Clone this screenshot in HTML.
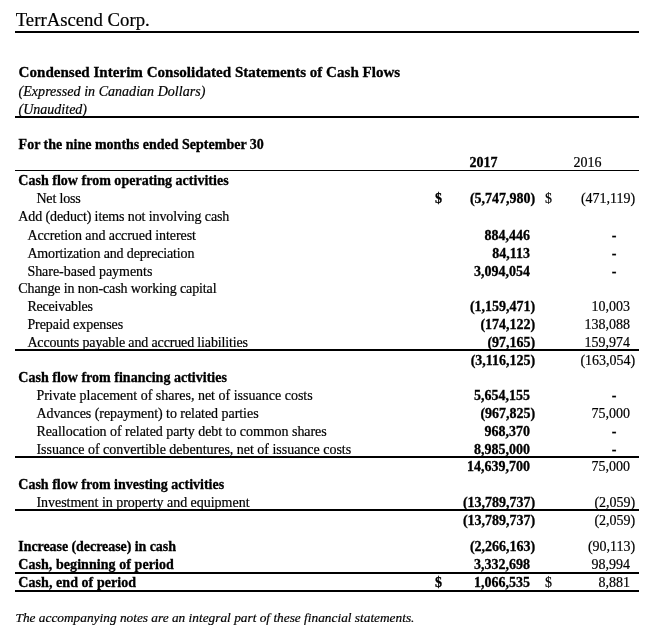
<!DOCTYPE html>
<html><head><meta charset="utf-8"><title>TerrAscend Corp. - Condensed Interim Consolidated Statements of Cash Flows</title>
<style>
html,body{margin:0;padding:0;background:#fff;}
body{width:667px;height:628px;position:relative;overflow:hidden;font-family:"Liberation Serif","Times New Roman",serif;color:#000;}
.t{position:absolute;white-space:nowrap;line-height:normal;-webkit-text-stroke:0.2px #000;}
.b{font-weight:bold;-webkit-text-stroke:0.3px #000;}
.i{font-style:italic;}
.r{text-align:right;}
.c{text-align:center;}
.h{position:absolute;background:#000;}
</style></head><body>

<div class="h" style="left:14.6px;top:30.8px;width:624.9px;height:1.9px"></div>
<div class="h" style="left:14.6px;top:116.0px;width:624.7px;height:1.6px"></div>
<div class="h" style="left:14.6px;top:169.8px;width:624.7px;height:1.6px"></div>
<div class="h" style="left:14.6px;top:349.4px;width:624.7px;height:1.6px"></div>
<div class="h" style="left:14.6px;top:456.4px;width:624.7px;height:1.6px"></div>
<div class="h" style="left:14.6px;top:509.4px;width:624.7px;height:1.6px"></div>
<div class="h" style="left:14.6px;top:571.5px;width:624.7px;height:2.0px"></div>
<div class="h" style="left:14.6px;top:589.8px;width:624.7px;height:2.2px"></div>
<div class="t" style="top:9.19px;font-size:18.75px;left:15.70px;">TerrAscend Corp.</div>
<div class="t b" style="top:64.07px;font-size:15.07px;left:18.60px;">Condensed Interim Consolidated Statements of Cash Flows</div>
<div class="t i" style="top:83.73px;font-size:14.0px;letter-spacing:0.033px;left:18.60px;">(Expressed in Canadian Dollars)</div>
<div class="t i" style="top:101.53px;font-size:14.0px;left:18.60px;">(Unaudited)</div>
<div class="t b" style="top:137.43px;font-size:14.0px;left:18.60px;">For the nine months ended September 30</div>
<div class="t b" style="top:155.03px;font-size:14.0px;left:469.50px;">2017</div>
<div class="t" style="top:155.03px;font-size:14.0px;left:573.50px;">2016</div>
<div class="t b" style="top:173.43px;font-size:14.0px;letter-spacing:0.018px;left:18.30px;">Cash flow from operating activities</div>
<div class="t" style="top:191.33px;font-size:14.0px;letter-spacing:-0.157px;left:36.40px;">Net loss</div>
<div class="t b" style="top:191.33px;font-size:14.0px;left:435.00px;">$</div>
<div class="t b r" style="top:191.33px;font-size:14.0px;right:131.80px;">(5,747,980)</div>
<div class="t" style="top:191.33px;font-size:14.0px;left:545.00px;">$</div>
<div class="t r" style="top:191.33px;font-size:14.0px;right:31.80px;">(471,119)</div>
<div class="t" style="top:209.33px;font-size:14.0px;letter-spacing:-0.111px;left:18.30px;">Add (deduct) items not involving cash</div>
<div class="t" style="top:228.03px;font-size:14.0px;letter-spacing:-0.072px;left:27.40px;">Accretion and accrued interest</div>
<div class="t b r" style="top:228.03px;font-size:14.0px;right:137.00px;">884,446</div>
<div class="t b c" style="top:228.03px;font-size:14.0px;left:594.00px;width:40px;">-</div>
<div class="t" style="top:246.03px;font-size:14.0px;letter-spacing:-0.143px;left:27.40px;">Amortization and depreciation</div>
<div class="t b r" style="top:246.03px;font-size:14.0px;right:137.00px;">84,113</div>
<div class="t b c" style="top:246.03px;font-size:14.0px;left:594.00px;width:40px;">-</div>
<div class="t" style="top:263.73px;font-size:14.0px;letter-spacing:-0.032px;left:27.40px;">Share-based payments</div>
<div class="t b r" style="top:263.73px;font-size:14.0px;right:137.00px;">3,094,054</div>
<div class="t b c" style="top:263.73px;font-size:14.0px;left:594.00px;width:40px;">-</div>
<div class="t" style="top:281.03px;font-size:14.0px;letter-spacing:-0.118px;left:18.30px;">Change in non-cash working capital</div>
<div class="t" style="top:298.93px;font-size:14.0px;letter-spacing:-0.200px;left:27.40px;">Receivables</div>
<div class="t b r" style="top:298.93px;font-size:14.0px;right:131.80px;">(1,159,471)</div>
<div class="t r" style="top:298.93px;font-size:14.0px;right:37.00px;">10,003</div>
<div class="t" style="top:316.83px;font-size:14.0px;letter-spacing:-0.067px;left:27.40px;">Prepaid expenses</div>
<div class="t b r" style="top:316.83px;font-size:14.0px;right:131.80px;">(174,122)</div>
<div class="t r" style="top:316.83px;font-size:14.0px;right:37.00px;">138,088</div>
<div class="t" style="top:334.73px;font-size:14.0px;letter-spacing:-0.144px;left:27.40px;">Accounts payable and accrued liabilities</div>
<div class="t b r" style="top:334.73px;font-size:14.0px;right:131.80px;">(97,165)</div>
<div class="t r" style="top:334.73px;font-size:14.0px;right:37.00px;">159,974</div>
<div class="t b r" style="top:352.83px;font-size:14.0px;right:131.80px;">(3,116,125)</div>
<div class="t r" style="top:352.83px;font-size:14.0px;right:31.80px;">(163,054)</div>
<div class="t b" style="top:369.93px;font-size:14.0px;letter-spacing:0.012px;left:18.30px;">Cash flow from financing activities</div>
<div class="t" style="top:388.23px;font-size:14.0px;letter-spacing:0.006px;left:36.40px;">Private placement of shares, net of issuance costs</div>
<div class="t b r" style="top:388.23px;font-size:14.0px;right:137.00px;">5,654,155</div>
<div class="t b c" style="top:388.23px;font-size:14.0px;left:594.00px;width:40px;">-</div>
<div class="t" style="top:406.03px;font-size:14.0px;letter-spacing:-0.045px;left:36.40px;">Advances (repayment) to related parties</div>
<div class="t b r" style="top:406.03px;font-size:14.0px;right:131.80px;">(967,825)</div>
<div class="t r" style="top:406.03px;font-size:14.0px;right:37.00px;">75,000</div>
<div class="t" style="top:424.03px;font-size:14.0px;letter-spacing:-0.048px;left:36.40px;">Reallocation of related party debt to common shares</div>
<div class="t b r" style="top:424.03px;font-size:14.0px;right:137.00px;">968,370</div>
<div class="t b c" style="top:424.03px;font-size:14.0px;left:594.00px;width:40px;">-</div>
<div class="t" style="top:441.93px;font-size:14.0px;letter-spacing:-0.016px;left:36.40px;">Issuance of convertible debentures, net of issuance costs</div>
<div class="t b r" style="top:441.93px;font-size:14.0px;right:137.00px;">8,985,000</div>
<div class="t b c" style="top:441.93px;font-size:14.0px;left:594.00px;width:40px;">-</div>
<div class="t b r" style="top:459.33px;font-size:14.0px;right:137.00px;">14,639,700</div>
<div class="t r" style="top:459.33px;font-size:14.0px;right:37.00px;">75,000</div>
<div class="t b" style="top:477.03px;font-size:14.0px;left:18.30px;">Cash flow from investing activities</div>
<div class="t" style="top:495.03px;font-size:14.0px;letter-spacing:-0.020px;left:36.40px;">Investment in property and equipment</div>
<div class="t b r" style="top:495.03px;font-size:14.0px;right:131.80px;">(13,789,737)</div>
<div class="t r" style="top:495.03px;font-size:14.0px;right:31.80px;">(2,059)</div>
<div class="t b r" style="top:513.03px;font-size:14.0px;right:131.80px;">(13,789,737)</div>
<div class="t r" style="top:513.03px;font-size:14.0px;right:31.80px;">(2,059)</div>
<div class="t b" style="top:539.33px;font-size:14.0px;letter-spacing:-0.062px;left:18.30px;">Increase (decrease) in cash</div>
<div class="t b r" style="top:539.33px;font-size:14.0px;right:131.80px;">(2,266,163)</div>
<div class="t r" style="top:539.33px;font-size:14.0px;right:31.80px;">(90,113)</div>
<div class="t b" style="top:557.13px;font-size:14.0px;letter-spacing:0.058px;left:18.30px;">Cash, beginning of period</div>
<div class="t b r" style="top:557.13px;font-size:14.0px;right:137.00px;">3,332,698</div>
<div class="t r" style="top:557.13px;font-size:14.0px;right:37.00px;">98,994</div>
<div class="t b" style="top:574.73px;font-size:14.0px;letter-spacing:0.061px;left:18.30px;">Cash, end of period</div>
<div class="t b" style="top:574.73px;font-size:14.0px;left:435.00px;">$</div>
<div class="t b r" style="top:574.73px;font-size:14.0px;right:137.00px;">1,066,535</div>
<div class="t" style="top:574.73px;font-size:14.0px;left:545.00px;">$</div>
<div class="t r" style="top:574.73px;font-size:14.0px;right:37.00px;">8,881</div>
<div class="t i" style="top:609.91px;font-size:13.34px;left:15.50px;">The accompanying notes are an integral part of these financial statements.</div>
</body></html>
